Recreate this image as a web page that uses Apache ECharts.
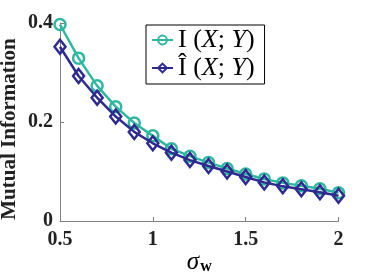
<!DOCTYPE html>
<html><head><meta charset="utf-8">
<script src="https://cdn.jsdelivr.net/npm/echarts@6/dist/echarts.min.js"></script>
<style>html,body{margin:0;padding:0;background:#fff}#c{width:374px;height:280px}</style>
</head><body><div id="c"></div>
<script>
var sigmaW = [0.5, 0.6, 0.7, 0.8, 0.9, 1.0, 1.1, 1.2, 1.3, 1.4, 1.5, 1.6, 1.7, 1.8, 1.9, 2.0];
var miTrue = [0.397, 0.329, 0.273, 0.231, 0.198, 0.172, 0.146, 0.131, 0.118, 0.106, 0.095, 0.085, 0.077, 0.071, 0.065, 0.057];
var miEst  = [0.352, 0.293, 0.249, 0.211, 0.180, 0.157, 0.138, 0.123, 0.111, 0.100, 0.089, 0.078, 0.070, 0.064, 0.058, 0.051];
var seriesNames = ['I', 'Î'];
var xTicks = [0.5, 1, 1.5, 2];
var yTicks = [0, 0.2, 0.4];

var teal = '#2fb7a1', purple = '#2e2a8f';
var serif = 'Liberation Serif';
function pairs(ys){ return sigmaW.map(function(x,i){return [x, ys[i]];}); }

var chart = echarts.init(document.getElementById('c'), null, {renderer:'canvas'});
chart.setOption({
  animation:false,
  grid:{left:60, right:35.5, top:23, bottom:59, containLabel:false, outerBoundsMode:'none'},
  legend:{
    orient:'vertical', left:146, top:25, padding:[2,10,3,5],
    borderColor:'#000', borderWidth:1, backgroundColor:'#fff',
    itemWidth:21, itemHeight:11, itemGap:2,
    data:seriesNames,
    formatter:function(n){ return '{r|'+n+' (}{i|X}{r|; }{i|Y}{r|)}'; },
    textStyle:{
      rich:{
        r:{fontFamily:serif, fontSize:26, color:'#000', lineHeight:27},
        i:{fontFamily:serif, fontSize:26, fontStyle:'italic', color:'#000', lineHeight:27}
      }
    }
  },
  xAxis:{
    type:'value', min:0.5, max:2, interval:0.5,
    name:'{s|σ}{w|w}', nameLocation:'middle', nameGap:28, nameMoveOverlap:false,
    nameTextStyle:{rich:{
      s:{fontFamily:serif, fontSize:25, fontStyle:'italic', color:'#000'},
      w:{fontFamily:serif, fontSize:16, fontWeight:'bold', color:'#000', padding:[10,0,0,1]}
    }},
    axisLine:{lineStyle:{color:'#808080', width:1}},
    axisTick:{inside:true, length:4, lineStyle:{color:'#808080'}},
    splitLine:{show:false},
    axisLabel:{fontFamily:serif, fontSize:20, fontWeight:'bold', color:'#222', margin:9,
      formatter:function(v){ return xTicks.indexOf(+v.toFixed(2))>=0 ? String(v) : ''; }}
  },
  yAxis:{
    type:'value', min:0, max:0.4, interval:0.2,
    name:'Mutual Information', nameLocation:'middle', nameGap:40, nameMoveOverlap:false,
    nameTextStyle:{fontFamily:serif, fontSize:21, fontWeight:'bold', color:'#222', padding:[0,14,0,0]},
    axisLine:{show:true, lineStyle:{color:'#808080', width:1}},
    axisTick:{show:true, inside:true, length:4, lineStyle:{color:'#808080'}},
    splitLine:{show:false},
    axisLabel:{fontFamily:serif, fontSize:20, fontWeight:'bold', color:'#222', margin:7,
      formatter:function(v){ return yTicks.indexOf(+v.toFixed(2))>=0 ? String(+v.toFixed(1)) : ''; }}
  },
  series:[
    {name:seriesNames[0], type:'line', data:pairs(miTrue), symbol:'circle', symbolSize:11,
     lineStyle:{color:teal, width:2.5},
     itemStyle:{color:'rgba(255,255,255,0)', borderColor:teal, borderWidth:2.5}, z:2},
    {name:seriesNames[1], type:'line', data:pairs(miEst), symbol:'diamond', symbolSize:[11,14],
     lineStyle:{color:purple, width:2.5},
     itemStyle:{color:'rgba(255,255,255,0)', borderColor:purple, borderWidth:2.5}, z:3}
  ]
});
</script></body></html>
